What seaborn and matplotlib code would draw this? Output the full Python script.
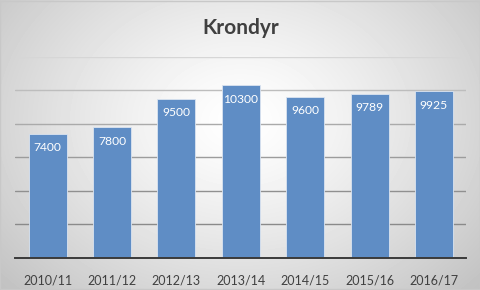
import numpy as np
import pandas as pd
import matplotlib
matplotlib.use("Agg")
import matplotlib.pyplot as plt
import seaborn as sns

seasons = ["2010/11", "2011/12", "2012/13", "2013/14", "2014/15", "2015/16", "2016/17"]
values = [7400, 7800, 9500, 10300, 9600, 9789, 9925]
title = "Krondyr"
grid_levels = [2000, 4000, 6000, 8000, 10000, 12000]
grid_colors = ["#8a8a8a", "#909090", "#9c9c9c", "#aaaaaa", "#bdbdbd", "#d6d6d6"]

df = pd.DataFrame({"season": seasons, "value": values})

sns.set_theme(style="white")
plt.rcParams["font.family"] = ["Lato", "DejaVu Sans"]

fig = plt.figure(figsize=(4.81, 2.90), dpi=100)

# radial gradient background
bg = fig.add_axes([0, 0, 1, 1], zorder=0)
yy, xx = np.mgrid[0:290, 0:481]
r = np.sqrt(((xx - 240) / 300.0) ** 2 + ((yy - 120) / 230.0) ** 2)
shade = np.clip(1.0 - 0.22 * r ** 1.3, 0, 1)
bg.imshow(shade, cmap="gray", vmin=0, vmax=1, aspect="auto", extent=[0, 1, 0, 1])
bg.set_axis_off()
bg.add_patch(plt.Rectangle((0.001, 0.002), 0.997, 0.995, transform=bg.transAxes,
                           fill=False, edgecolor="#c8c8c8", lw=1))

ax = fig.add_axes([0.032, 0.1114, 0.937, 0.693], zorder=1)
ax.patch.set_alpha(0)
sns.barplot(data=df, x="season", y="value", ax=ax, color="#5f8dc5",
            width=0.59, saturation=1, edgecolor="#dbe4f0", linewidth=0.6, zorder=3)
ax.set_ylim(0, 12000)
ax.set_yticks(grid_levels)
for lvl, col in zip(grid_levels, grid_colors):
    ax.axhline(lvl, color=col, lw=1, zorder=1)
ax.set_xlabel("")
ax.set_ylabel("")
ax.tick_params(axis="y", left=False, labelleft=False)
ax.tick_params(axis="x", bottom=False, labelsize=9, labelcolor="#404040", pad=6)
for s in ["top", "right", "left"]:
    ax.spines[s].set_visible(False)
ax.spines["bottom"].set_color("#3a3a3a")
ax.spines["bottom"].set_linewidth(1.4)
ax.spines["bottom"].set_zorder(4)

for c in ax.containers:
    ax.bar_label(c, labels=[str(v) for v in values], padding=-14, color="white", fontsize=8.7)

fig.text(0.5, 0.905, title, ha="center", va="center", fontsize=15, fontweight="bold", color="#404040")

fig.savefig("out.png", dpi=100)
